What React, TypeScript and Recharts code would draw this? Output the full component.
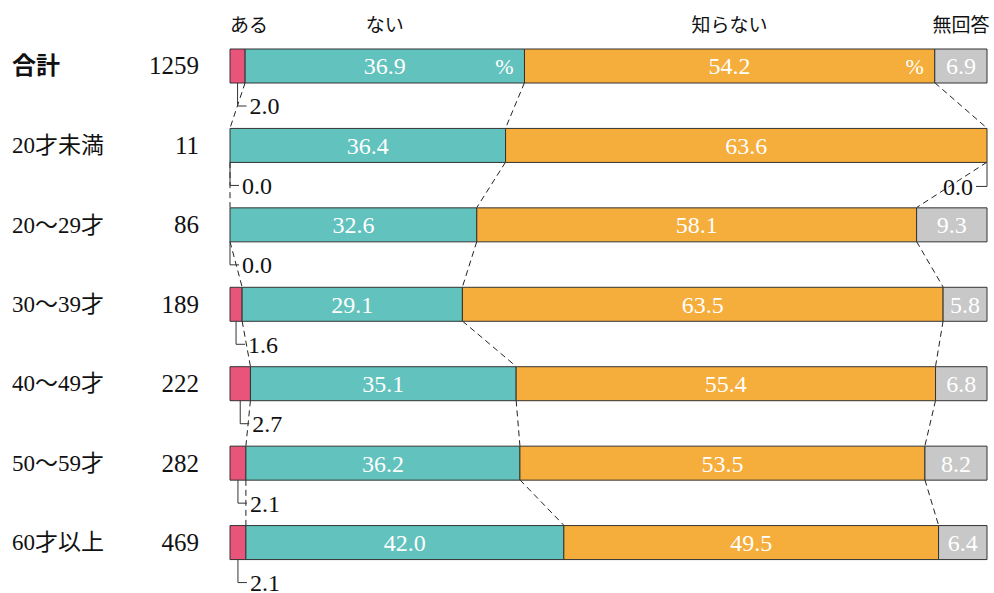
import React from 'react';
import { BarChart, Bar, XAxis, YAxis, LabelList, Customized, usePlotArea } from 'recharts';

const categories = ['合計', '20才未満', '20～29才', '30～39才', '40～49才', '50～59才', '60才以上'];
const counts = [1259, 11, 86, 189, 222, 282, 469];
const aru = [2.0, 0.0, 0.0, 1.6, 2.7, 2.1, 2.1];
const nai = [36.9, 36.4, 32.6, 29.1, 35.1, 36.2, 42.0];
const shiranai = [54.2, 63.6, 58.1, 63.5, 55.4, 53.5, 49.5];
const mukaito = [6.9, 0.0, 9.3, 5.8, 6.8, 8.2, 6.4];
const seriesNames = ['ある', 'ない', '知らない', '無回答'];

const COLORS = ['#e9557a', '#62c2bd', '#f5ad3b', '#c8c8c8'];
const SERIF = '"Liberation Serif", "DejaVu Serif", "Noto Sans CJK JP", serif';
const SANS = '"Noto Sans CJK JP", "Noto Sans", sans-serif';
const BAR = 34;
const VALUE_FONT = 24;

const data = categories.map((name, i) => ({
  name,
  n: counts[i],
  a: aru[i],
  b: nai[i],
  c: shiranai[i],
  d: mukaito[i],
}));

const fmt = (v: number) => v.toFixed(1);

function CategoryTick(props: any) {
  const { y, index, payload } = props;
  const first = index === 0;
  return (
    <g>
      <text
        x={12}
        y={y}
        dy="0.35em"
        fontSize={first ? 24 : 23}
        fontWeight={first ? 700 : 400}
        fontFamily={first ? SANS : SERIF}
        fill="#111"
      >
        {payload.value}
      </text>
      <text x={199} y={y} dy="0.35em" textAnchor="end" fontSize={25} fontFamily={SERIF} fill="#111">
        {counts[index]}
      </text>
    </g>
  );
}

// L-shaped leader hanging below a bar edge, text to the right
function LeftLeader({ cx, bottom, value }: { cx: number; bottom: number; value: number }) {
  const ly = bottom + 23;
  return (
    <g>
      <polyline points={`${cx},${bottom} ${cx},${ly} ${cx + 9},${ly}`} fill="none" stroke="#333" strokeWidth={1} />
      <text x={cx + 12} y={ly} dy="0.35em" fontSize={VALUE_FONT} fontFamily={SERIF} fill="#111">
        {fmt(value)}
      </text>
    </g>
  );
}

function AruLabel(props: any) {
  const { x, y, width, height, value } = props;
  return <LeftLeader cx={x + width / 2} bottom={y + height} value={value} />;
}

function InnerLabel(props: any) {
  const { x, y, width, height, value, index, series } = props;
  return (
    <g>
      <text x={x + width / 2} y={y + height / 2} dy="0.35em" textAnchor="middle" fontSize={VALUE_FONT} fontFamily={SERIF} fill="#fff">
        {fmt(value)}
      </text>
      {index === 0 && (
        <text x={x + width - 11} y={y + height / 2} dy="0.35em" textAnchor="end" fontSize={22} fontFamily={SERIF} fill="#fff">
          %
        </text>
      )}
      {/* zero-width neighbours get no label of their own */}
      {series === 'b' && aru[index] === 0 && <LeftLeader cx={x} bottom={y + height} value={0} />}
      {series === 'c' && mukaito[index] === 0 && (
        <g>
          <polyline
            points={`${x + width},${y + height} ${x + width},${y + height + 24} ${x + width - 11},${y + height + 24}`}
            fill="none"
            stroke="#333"
            strokeWidth={1}
          />
          <text x={x + width - 14} y={y + height + 24} dy="0.35em" textAnchor="end" fontSize={VALUE_FONT} fontFamily={SERIF} fill="#111">
            {fmt(0)}
          </text>
        </g>
      )}
    </g>
  );
}

function MukaitoLabel(props: any) {
  const { x, y, width, height, value } = props;
  if (!value) return null;
  return (
    <text x={x + width / 2} y={y + height / 2} dy="0.35em" textAnchor="middle" fontSize={VALUE_FONT} fontFamily={SERIF} fill="#fff">
      {fmt(value)}
    </text>
  );
}

// dashed lines joining segment borders of consecutive bars, plus column headings
function Connectors() {
  const area = usePlotArea();
  if (!area) return null;
  const step = area.height / data.length;
  const sx = (v: number) => area.x + (v / 100) * area.width;
  const top = (i: number) => area.y + i * step + (step - BAR) / 2;
  const bounds = data.map((r) => [r.a, r.a + r.b, r.a + r.b + r.c]);
  const lines: React.ReactNode[] = [];
  for (let i = 0; i < data.length - 1; i++) {
    for (let k = 0; k < 3; k++) {
      lines.push(
        <line
          key={`${i}-${k}`}
          x1={sx(bounds[i][k])}
          y1={top(i) + BAR}
          x2={sx(bounds[i + 1][k])}
          y2={top(i + 1)}
          stroke="#222"
          strokeWidth={1}
          strokeDasharray="6 4"
        />
      );
    }
  }
  const r0 = data[0];
  const segs = [
    [0, r0.a],
    [r0.a, r0.a + r0.b],
    [r0.a + r0.b, r0.a + r0.b + r0.c],
    [r0.a + r0.b + r0.c, 100],
  ];
  const hy = top(0) - 23;
  return (
    <g>
      {lines}
      {seriesNames.map((s, k) => (
        <text
          key={s}
          x={k === 0 ? sx(segs[k][0]) : sx((segs[k][0] + segs[k][1]) / 2)}
          y={hy}
          dy="0.35em"
          textAnchor={k === 0 ? 'start' : 'middle'}
          fontSize={19}
          fontFamily={SANS}
          fill="#111"
        >
          {s}
        </text>
      ))}
    </g>
  );
}

export default function App() {
  return (
    <div style={{ position: 'absolute', left: 0, top: 0, background: '#fff' }}>
      <BarChart
        width={994}
        height={593}
        data={data}
        layout="vertical"
        margin={{ top: 26, right: 7, bottom: 11, left: 0 }}
        barSize={BAR}
      >
        <XAxis type="number" domain={[0, 100]} hide />
        <YAxis type="category" dataKey="name" width={230} axisLine={false} tickLine={false} tick={<CategoryTick />} />
        <Bar dataKey="a" stackId="s" fill={COLORS[0]} stroke="#333" strokeWidth={1} isAnimationActive={false}>
          <LabelList dataKey="a" content={<AruLabel />} />
        </Bar>
        <Bar dataKey="b" stackId="s" fill={COLORS[1]} stroke="#333" strokeWidth={1} isAnimationActive={false}>
          <LabelList dataKey="b" content={<InnerLabel series="b" />} />
        </Bar>
        <Bar dataKey="c" stackId="s" fill={COLORS[2]} stroke="#333" strokeWidth={1} isAnimationActive={false}>
          <LabelList dataKey="c" content={<InnerLabel series="c" />} />
        </Bar>
        <Bar dataKey="d" stackId="s" fill={COLORS[3]} stroke="#333" strokeWidth={1} isAnimationActive={false}>
          <LabelList dataKey="d" content={<MukaitoLabel />} />
        </Bar>
        <Customized component={<Connectors />} />
      </BarChart>
    </div>
  );
}
